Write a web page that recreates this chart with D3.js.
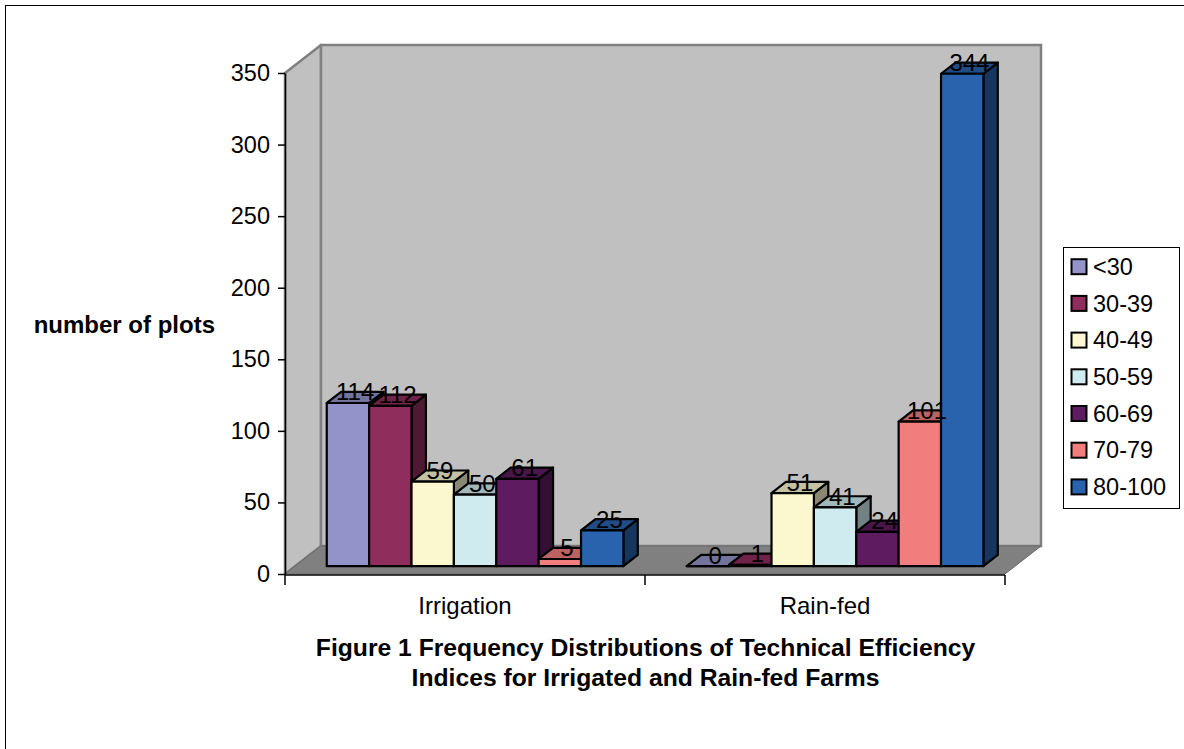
<!DOCTYPE html>
<html>
<head>
<meta charset="utf-8">
<script src="https://cdn.jsdelivr.net/npm/d3@7/dist/d3.min.js"></script>
<style>
  body { margin: 0; background: #fff; }
  svg { display: block; }
  text { font-family: "Liberation Sans", Arial, sans-serif; fill: #000; }
</style>
</head>
<body>
<svg id="chart" width="1184" height="749"></svg>
<script>
// Categories, series and values
const categories = ["Irrigation", "Rain-fed"];
const seriesNames = ["<30", "30-39", "40-49", "50-59", "60-69", "70-79", "80-100"];
const irrigationValues = [114, 112, 59, 50, 61, 5, 25];
const rainfedValues = [0, 1, 51, 41, 24, 101, 344];
const seriesColors = ["#9393c9", "#8f2d5c", "#fbf8cf", "#cfebef", "#5f1b5f", "#f27d7d", "#2962ad"];
const yTicks = [0, 50, 100, 150, 200, 250, 300, 350];
const yAxisTitle = "number of plots";
const titleLines = [
  "Figure 1 Frequency Distributions of Technical Efficiency",
  "Indices for Irrigated and Rain-fed Farms"
];

const valuesByCategory = { "Irrigation": irrigationValues, "Rain-fed": rainfedValues };

const svg = d3.select("#chart");

// Front plane of the 3-D box
const plot = { left: 285, right: 1005, top: 73, bottom: 574 };
const DEPTH_X = 36, DEPTH_Y = 28;   // oblique depth offset of the box

const y = d3.scaleLinear().domain([0, 350]).range([plot.bottom, plot.top]);
const xCat = d3.scaleBand().domain(categories).range([plot.left, plot.right]);
const groupW = xCat.bandwidth() * 0.824;
const xSer = d3.scaleBand().domain(seriesNames)
  .range([(xCat.bandwidth() - groupW) / 2, (xCat.bandwidth() + groupW) / 2]);

// project (x on front plane, value, depth 0..1) to screen
const P = (x, v, z) => [x + z * DEPTH_X, y(v) - z * DEPTH_Y];
const poly = pts => "M" + pts.map(p => p.join(",")).join("L") + "Z";

// page border (top and left edges visible)
svg.append("rect").attr("x", 5.5).attr("y", 5.5).attr("width", 1300).attr("height", 900)
  .attr("fill", "none").attr("stroke", "#000").attr("stroke-width", 1);

// walls and floor
const wallFill = "#c0c0c0", wallEdge = "#808080";
const backTL = P(plot.left, 350, 1), backBR = P(plot.right, 0, 1);
svg.append("path")
  .attr("d", poly([P(plot.left, 350, 0), P(plot.left, 350, 1), P(plot.left, 0, 1), P(plot.left, 0, 0)]))
  .attr("fill", wallFill).attr("stroke", wallEdge).attr("stroke-width", 2.5).attr("stroke-linejoin", "round");
svg.append("path")
  .attr("d", poly([backTL, [backBR[0], backTL[1]], backBR, [backTL[0], backBR[1]]]))
  .attr("fill", wallFill).attr("stroke", wallEdge).attr("stroke-width", 2.5);
svg.append("path")
  .attr("d", poly([P(plot.left, 0, 0), P(plot.left, 0, 1), P(plot.right, 0, 1), P(plot.right, 0, 0)]))
  .attr("fill", "#808080").attr("stroke", "#6a6a6a").attr("stroke-width", 1);

// y axis
const yAxis = svg.append("g").attr("transform", `translate(${plot.left},0)`)
  .call(d3.axisLeft(y).tickValues(yTicks).tickSize(7).tickSizeOuter(0).tickPadding(8));
yAxis.select(".domain").attr("stroke", "#000").attr("stroke-width", 1.5);
yAxis.selectAll(".tick line").attr("stroke", "#000").attr("stroke-width", 1.5);
yAxis.selectAll(".tick text").style("font-size", "23.5px").style("font-family", "'Liberation Sans', Arial, sans-serif").attr("fill", "#000");

// category axis along the front floor edge
const xAxisY = plot.bottom + 1;
const edges = categories.map(c => xCat(c)).concat([plot.right]);
svg.append("line").attr("x1", plot.left).attr("x2", plot.right)
  .attr("y1", xAxisY).attr("y2", xAxisY).attr("stroke", "#000").attr("stroke-width", 1.5);
svg.selectAll(".xtick").data(edges).join("line")
  .attr("x1", d => d).attr("x2", d => d)
  .attr("y1", xAxisY).attr("y2", xAxisY + 10)
  .attr("stroke", "#000").attr("stroke-width", 1.5);
svg.selectAll(".xlabel").data(categories).join("text")
  .attr("x", d => xCat(d) + xCat.bandwidth() / 2).attr("y", 614)
  .attr("text-anchor", "middle").style("font-size", "24px").text(d => d);

// bars
const z0 = 0.28, z1 = 0.68;
const shade = (c, k) => { const o = d3.rgb(c); return d3.rgb(o.r * k, o.g * k, o.b * k).formatHex(); };
const barData = [];
categories.forEach(c => {
  valuesByCategory[c].forEach((v, i) => {
    const x0 = xCat(c) + xSer(seriesNames[i]);
    barData.push({ c, s: seriesNames[i], v, x0, x1: x0 + xSer.bandwidth(), color: seriesColors[i] });
  });
});

const bars = svg.append("g").selectAll("g").data(barData).join("g")
  .attr("stroke", "#000").attr("stroke-width", 2.2).attr("stroke-linejoin", "round");
bars.append("path")
  .attr("d", d => poly([P(d.x1, 0, z0), P(d.x1, 0, z1), P(d.x1, d.v, z1), P(d.x1, d.v, z0)]))
  .attr("fill", d => shade(d.color, 0.55));
bars.append("path")
  .attr("d", d => poly([P(d.x0, d.v, z0), P(d.x1, d.v, z0), P(d.x1, d.v, z1), P(d.x0, d.v, z1)]))
  .attr("fill", d => shade(d.color, 0.78));
bars.append("path")
  .attr("d", d => poly([P(d.x0, 0, z0), P(d.x1, 0, z0), P(d.x1, d.v, z0), P(d.x0, d.v, z0)]))
  .attr("fill", d => d.color);

// value labels on the bar tops
const zm = (z0 + z1) / 2;
svg.append("g").selectAll("text").data(barData).join("text")
  .attr("x", d => P((d.x0 + d.x1) / 2, d.v, zm)[0])
  .attr("y", d => P((d.x0 + d.x1) / 2, d.v, zm)[1] + 3)
  .attr("text-anchor", "middle").style("font-size", "24px")
  .text(d => d.v);

// y axis title
svg.append("text").attr("x", 215).attr("y", 333).attr("text-anchor", "end")
  .style("font-size", "24px").style("font-weight", "bold").text(yAxisTitle);

// chart title
svg.append("g").selectAll("text").data(titleLines).join("text")
  .attr("x", 645.5).attr("y", (d, i) => 656 + i * 30)
  .attr("text-anchor", "middle").style("font-size", "24.7px").style("font-weight", "bold")
  .text(d => d);

// legend
const legend = svg.append("g").attr("transform", "translate(1063,247)");
legend.append("rect").attr("x", 0.5).attr("y", 0.5).attr("width", 116).attr("height", 261)
  .attr("fill", "#fff").attr("stroke", "#000").attr("stroke-width", 1);
const items = legend.selectAll("g.item").data(seriesNames).join("g")
  .attr("transform", (d, i) => `translate(0,${19.7 + i * 36.7})`);
items.append("rect").attr("x", 8.5).attr("y", -7.5).attr("width", 15).attr("height", 15)
  .attr("fill", (d, i) => seriesColors[i]).attr("stroke", "#000").attr("stroke-width", 2);
items.append("text").attr("x", 30).attr("y", 0).attr("dy", "0.35em")
  .style("font-size", "23.5px").text(d => d);
</script>
</body>
</html>
